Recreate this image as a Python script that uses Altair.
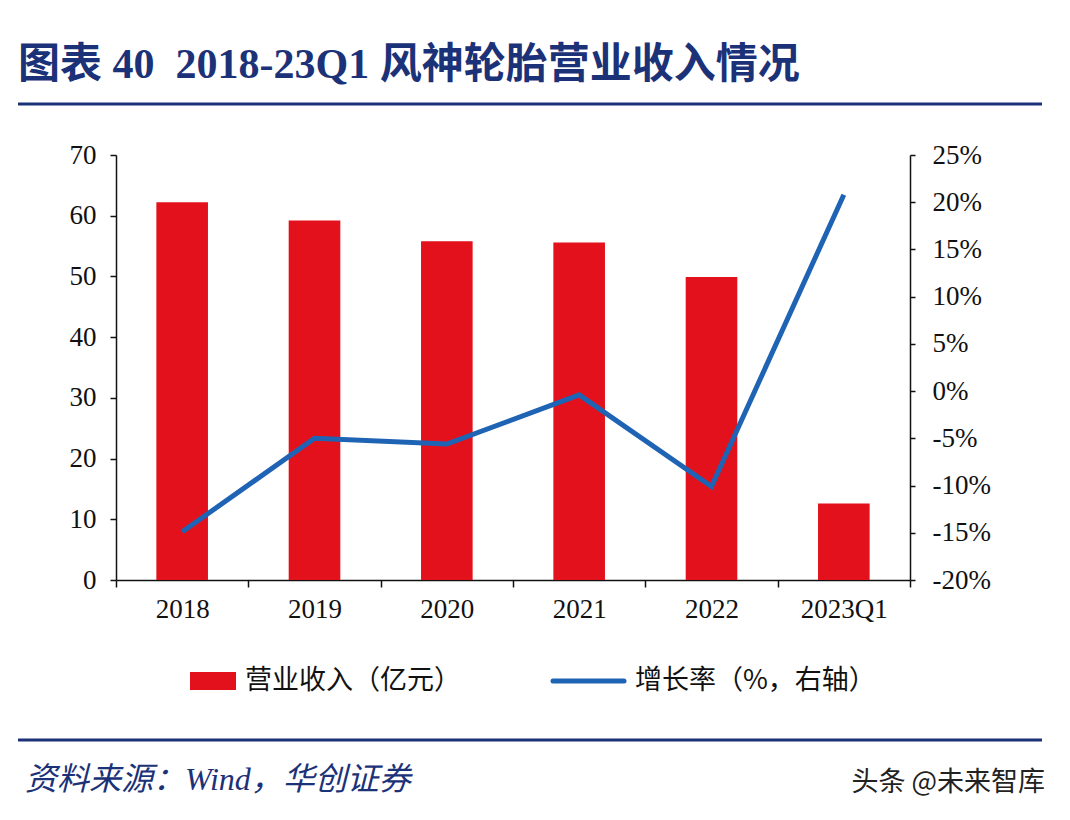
import altair as alt
import pandas as pd

categories = ["2018", "2019", "2020", "2021", "2022", "2023Q1"]
revenue = [62.2, 59.2, 55.8, 55.6, 49.9, 12.6]
growth = [-14.9, -5.0, -5.6, -0.4, -10.1, 20.8]

title_text = "图表 40\u00a0\u00a02018-23Q1 风神轮胎营业收入情况"
legend_bar = "营业收入（亿元）"
legend_line = "增长率（%，右轴）"
source_text = "资料来源：Wind，华创证券"
watermark = "头条 @未来智库"

df = pd.DataFrame({"cat": categories, "rev": revenue, "g": growth})

RED = "#e3111b"
BLUE = "#1f64b4"
NAVY = "#1c3278"
SERIF = "Liberation Serif"
CJK = "Noto Sans CJK SC"

W, H = 794, 425
LBL = 27

x_enc = alt.X("cat:N", sort=categories, title=None,
              scale=alt.Scale(paddingInner=0, paddingOuter=0),
              axis=alt.Axis(labelAngle=0, tickBand="extent", tickSize=7,
                            labelPadding=9, labelFont=SERIF, labelFontSize=LBL,
                            labelColor="#111", domainColor="#111", tickColor="#111",
                            domainWidth=1.5, tickWidth=1.5))

bars = alt.Chart(df).mark_bar(color=RED, width=alt.RelativeBandSize(0.39)).encode(
    x=x_enc,
    y=alt.Y("rev:Q", title=None,
            scale=alt.Scale(domain=[0, 70], nice=False),
            axis=alt.Axis(values=list(range(0, 71, 10)), tickSize=6, labelPadding=14,
                          labelFont=SERIF, labelFontSize=LBL, labelColor="#111",
                          domainColor="#111", tickColor="#111", grid=False,
                          domainWidth=1.5, tickWidth=1.5)),
)

line = alt.Chart(df).mark_line(color=BLUE, strokeWidth=5).encode(
    x=alt.X("cat:N", sort=categories),
    y=alt.Y("g:Q", title=None,
            scale=alt.Scale(domain=[-20, 25], nice=False),
            axis=alt.Axis(orient="right", values=list(range(-20, 26, 5)), tickSize=5,
                          labelPadding=17, labelFont=SERIF, labelFontSize=LBL,
                          labelColor="#111", domainColor="#111", tickColor="#111",
                          grid=False, labelExpr="datum.value + '%'",
                          domainWidth=1.5, tickWidth=1.5)),
)

one = pd.DataFrame({"k": [0]})

def txt(text, x, y, size, color, font, weight="normal", style="normal", align="left"):
    return alt.Chart(one).mark_text(
        text=text, align=align, baseline="middle", fontSize=size, color=color,
        font=font, fontWeight=weight, fontStyle=style
    ).encode(x=alt.value(x), y=alt.value(y))

def hrule(x1, x2, y, color, width):
    return alt.Chart(one).mark_rule(color=color, strokeWidth=width).encode(
        x=alt.value(x1), x2=alt.value(x2), y=alt.value(y))

title = txt(title_text, -98, -90, 42, NAVY, SERIF + ", " + CJK, weight="bold")
top_rule = hrule(-98, 926, -51, NAVY, 3)
bottom_rule = hrule(-98, 926, 585, NAVY, 3)

leg_rect = alt.Chart(one).mark_rect(color=RED).encode(
    x=alt.value(74), x2=alt.value(120), y=alt.value(517), y2=alt.value(535))
leg_t1 = txt(legend_bar, 129, 526, 27, "#111", CJK)
leg_line = alt.Chart(one).mark_rule(color=BLUE, strokeWidth=5, strokeCap="round").encode(
    x=alt.value(437), x2=alt.value(508), y=alt.value(526))
leg_t2 = txt(legend_line, 519, 526, 27, "#111", CJK)

src = txt(source_text, -91, 625, 32, NAVY, SERIF + ", " + CJK, style="italic")
wm = txt(watermark, 929, 628, 27, "#222", CJK, align="right")

chart = alt.layer(
    bars, line,
    title, top_rule, bottom_rule, leg_rect, leg_t1, leg_line, leg_t2, src, wm
).resolve_scale(y="independent").properties(
    width=W, height=H,
    padding={"left": 108, "top": 147, "right": 152, "bottom": 225},
    autosize=alt.AutoSizeParams(type="none"),
    background="white",
).configure_view(stroke=None)

chart.save("out.html", embed_options={"renderer": "svg", "actions": False})
